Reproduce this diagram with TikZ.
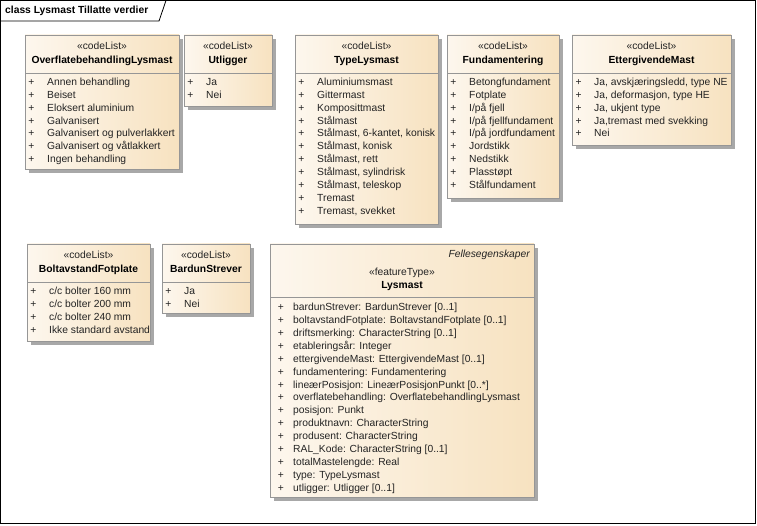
\documentclass[tikz,border=0pt]{standalone}
\usepackage{fontspec}
\setmainfont{Liberation Sans}
\usepackage{tikz}
\usetikzlibrary{positioning, calc, shadows}

\definecolor{boxleft}{RGB}{253,247,238}
\definecolor{boxright}{RGB}{247,226,192}
\definecolor{boxline}{RGB}{150,150,150}
\definecolor{shadowgray}{RGB}{168,168,168}
\definecolor{textgray}{RGB}{35,35,35}

\begin{document}
\begin{tikzpicture}[x=1pt, y=-1pt, font=\fontsize{10.3}{12}\selectfont,
    box/.style={draw=boxline, line width=0.8pt, left color=boxleft, right color=boxright,
      anchor=north west, inner sep=0pt, outer sep=0pt,
      drop shadow={shadow xshift=4pt, shadow yshift=-4pt, fill=shadowgray, opacity=1}},
    txt/.style={inner sep=0pt, text height=7.6pt, text depth=2.2pt},
    stereo/.style={txt, text=textgray},
    classname/.style={txt, font=\fontsize{10.3}{12}\selectfont\bfseries},
    item/.style={txt, anchor=west, text=textgray},
    plus/.style={txt, text=textgray}]
        \useasboundingbox (0,0) rectangle (757,526);
        % frame
        \draw[line width=0.8pt] (0.5,0.5) rectangle (755.5,523.5);
        \draw[line width=0.8pt] (0.5,21) -- (159,21) -- (166,0.5);
        \node[txt, anchor=west, font=\fontsize{10.3}{12}\selectfont\bfseries] (title) at (5,10.5) {class Lysmast Tillatte verdier};

        % code lists, upper row
        \node[box, minimum width=154pt, minimum height=134pt] (overflate) at (25,35) {};
        \node[box, minimum width=88pt, minimum height=71pt] (utligger) at (184,35) {};
        \node[box, minimum width=143pt, minimum height=189pt] (type) at (295,35) {};
        \node[box, minimum width=112pt, minimum height=163pt] (fundament) at (447,35) {};
        \node[box, minimum width=159pt, minimum height=110pt] (ettergivende) at (572,35) {};
        % code lists, lower row
        \node[box, minimum width=123pt, minimum height=97pt] (boltavstand) at (27,244) {};
        \node[box, minimum width=88pt, minimum height=69pt] (bardun) at (162,244) {};
        % feature type
        \node[box, minimum width=264pt, minimum height=253pt] (lysmast) at (270,244) {};

        \foreach \b/\n in {overflate/OverflatebehandlingLysmast, utligger/Utligger, type/TypeLysmast,
            fundament/Fundamentering, ettergivende/EttergivendeMast,
            boltavstand/BoltavstandFotplate, bardun/BardunStrever} {
          \draw[boxline, line width=0.8pt] ($(\b.north west)+(0,38)$) -- ($(\b.north east)+(0,38)$);
          \node[stereo] (\b-st) at ($(\b.north)+(0,12)$) {«codeList»};
          \node[classname] (\b-name) at ($(\b.north)+(0,26)$) {\n};
        }

        \foreach \t [count=\i] in {Annen behandling, Beiset, Eloksert aluminium, Galvanisert,
            Galvanisert og pulverlakkert, Galvanisert og våtlakkert, Ingen behandling} {
          \node[plus] (overflate-p\i) at ($(overflate.north west)+(6.5,{34.8+12.9*\i})$) {+};
          \node[item] (overflate-\i) at ($(overflate.north west)+(22,{34.8+12.9*\i})$) {\t};
        }
        \foreach \t [count=\i] in {Ja, Nei} {
          \node[plus] (utligger-p\i) at ($(utligger.north west)+(6.5,{34.8+12.9*\i})$) {+};
          \node[item] (utligger-\i) at ($(utligger.north west)+(22,{34.8+12.9*\i})$) {\t};
        }
        \foreach \t [count=\i] in {Aluminiumsmast, Gittermast, Komposittmast, Stålmast,
            {Stålmast, 6-kantet, konisk}, {Stålmast, konisk}, {Stålmast, rett},
            {Stålmast, sylindrisk}, {Stålmast, teleskop}, Tremast, {Tremast, svekket}} {
          \node[plus] (type-p\i) at ($(type.north west)+(6.5,{34.8+12.9*\i})$) {+};
          \node[item] (type-\i) at ($(type.north west)+(22,{34.8+12.9*\i})$) {\t};
        }
        \foreach \t [count=\i] in {Betongfundament, Fotplate, I/på fjell, I/på fjellfundament,
            I/på jordfundament, Jordstikk, Nedstikk, Plasstøpt, Stålfundament} {
          \node[plus] (fundament-p\i) at ($(fundament.north west)+(6.5,{34.8+12.9*\i})$) {+};
          \node[item] (fundament-\i) at ($(fundament.north west)+(22,{34.8+12.9*\i})$) {\t};
        }
        \foreach \t [count=\i] in {{Ja, avskjæringsledd, type NE}, {Ja, deformasjon, type HE},
            {Ja, ukjent type}, {Ja,tremast med svekking}, Nei} {
          \node[plus] (ettergivende-p\i) at ($(ettergivende.north west)+(6.5,{34.8+12.9*\i})$) {+};
          \node[item] (ettergivende-\i) at ($(ettergivende.north west)+(22,{34.8+12.9*\i})$) {\t};
        }
        \foreach \t [count=\i] in {c/c bolter 160 mm, c/c bolter 200 mm, c/c bolter 240 mm,
            Ikke standard avstand} {
          \node[plus] (boltavstand-p\i) at ($(boltavstand.north west)+(6.5,{34.8+13*\i})$) {+};
          \node[item] (boltavstand-\i) at ($(boltavstand.north west)+(22,{34.8+13*\i})$) {\t};
        }
        \foreach \t [count=\i] in {Ja, Nei} {
          \node[plus] (bardun-p\i) at ($(bardun.north west)+(6.5,{34.8+13*\i})$) {+};
          \node[item] (bardun-\i) at ($(bardun.north west)+(22,{34.8+13*\i})$) {\t};
        }

        % Lysmast
        \draw[boxline, line width=0.8pt] ($(lysmast.north west)+(0,53)$) -- ($(lysmast.north east)+(0,53)$);
        \node[txt, anchor=east, text=textgray, font=\fontsize{10.3}{12}\selectfont\itshape]
            (lysmast-pkg) at ($(lysmast.north east)+(-4,10.5)$) {Fellesegenskaper};
        \node[stereo] (lysmast-st) at ($(lysmast.north)+(0,29)$) {«featureType»};
        \node[classname] (lysmast-name) at ($(lysmast.north)+(0,42)$) {Lysmast};
        \foreach \t [count=\i] in {bardunStrever: BardunStrever [0..1],
            boltavstandFotplate: BoltavstandFotplate [0..1],
            driftsmerking: CharacterString [0..1],
            etableringsår: Integer,
            ettergivendeMast: EttergivendeMast [0..1],
            fundamentering: Fundamentering,
            lineærPosisjon: LineærPosisjonPunkt [0..*],
            overflatebehandling: OverflatebehandlingLysmast,
            posisjon: Punkt,
            produktnavn: CharacterString,
            produsent: CharacterString,
            RAL\_Kode: CharacterString [0..1],
            totalMastelengde: Real,
            type: TypeLysmast,
            utligger: Utligger [0..1]} {
          \node[plus] (lysmast-p\i) at ($(lysmast.north west)+(11,{51.4+12.86*\i})$) {+};
          \node[item] (lysmast-\i) at ($(lysmast.north west)+(23,{51.4+12.86*\i})$) {\t};
        }
\end{tikzpicture}
\end{document}
